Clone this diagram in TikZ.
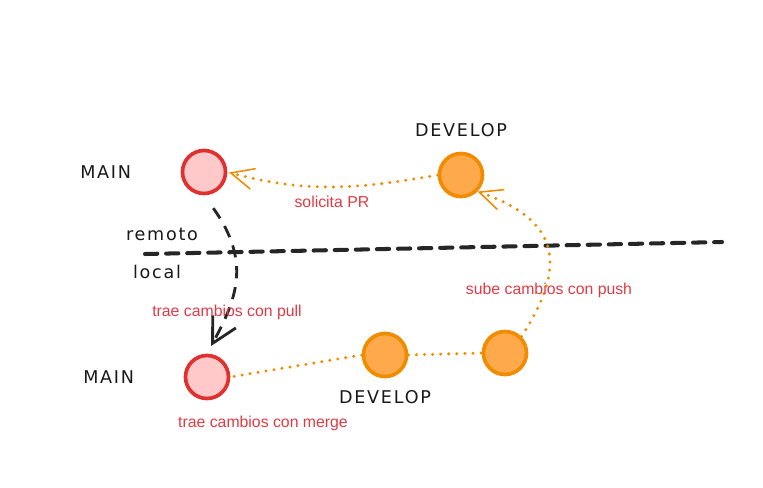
\documentclass[tikz,border=0pt]{standalone}
\usepackage{fontspec}
\setmainfont{Liberation Sans}
\newfontfamily\handfont[LetterSpace=10]{DejaVu Sans}
\usetikzlibrary{arrows.meta,positioning}
\definecolor{mainred}{HTML}{E03131}
\definecolor{mainpink}{HTML}{FFC9C9}
\definecolor{devorange}{HTML}{F08C00}
\definecolor{devfill}{HTML}{FFA94D}
\definecolor{labelred}{HTML}{E03B45}
\tikzset{
  commit/.style   = {circle, minimum size=0.86cm, inner sep=0pt, line width=2.1pt},
  main/.style     = {commit, draw=mainred, fill=mainpink},
  develop/.style  = {commit, draw=devorange, fill=devfill},
  branch/.style   = {font=\handfont\fontsize{10}{12}\selectfont, text=black!90, inner sep=1pt},
  action/.style   = {font=\fontsize{9}{11}\selectfont, text=labelred, inner sep=1pt},
  flow/.style     = {devorange, line width=1.9pt, line cap=round,
                     dash pattern=on 0pt off 4.6pt},
  sync/.style     = {black!85, line width=1.6pt, dash pattern=on 7pt off 5pt}
}

\begin{document}
\begin{tikzpicture}[x=0.02cm, y=-0.02cm,
  >={Straight Barb[length=13pt, width=12pt, line width=0.9pt]}]

\useasboundingbox (0,0) rectangle (763,487);

% remote repository
\node[main]    (mainR) at (204,172) {};
\node[develop] (devR)  at (461,175) {};
\node[branch, left=0.95cm of mainR] (mainRlbl) {MAIN};
\node[branch, above=0.25cm of devR] (devRlbl) {DEVELOP};

% local repository
\node[main]    (mainL) at (207,377) {};
\node[develop] (devL1) at (385,355) {};
\node[develop] (devL2) at (505,353) {};
\node[branch, left=0.95cm of mainL] (mainLlbl) {MAIN};
\node[branch, below=0.2cm of devL1] (devLlbl) {DEVELOP};

% border between remote and local
\coordinate (sepA) at (145,254);
\coordinate (sepB) at (722,242);
\draw[black!85, line width=2.3pt, line cap=round, dash pattern=on 7pt off 5pt] (sepA) -- (sepB);
\node[branch] (remoto) at (162,234) {remoto};
\node[branch] (local) at (157,272) {local};

% connectors
\draw[flow, ->, shorten >=1pt] (devR.west) to[out=190, in=-15]
  node[action, pos=0.5, below=3pt] (prlbl) {solicita PR} (mainR.east);
\draw[sync, ->, >={Straight Barb[length=14pt, width=15pt, line width=1.6pt]},
  shorten <=9pt, shorten >=5pt]
  (mainR.south) .. controls (252,262) and (236,300) .. (mainL.north);
\draw[flow] (devL1.east) -- (devL2.west);
\draw[flow] (devL1.west) -- (mainL.east);
\draw[flow, ->] (devL2.north east) .. controls (568,265) and (560,220) .. (devR.south east);

% labels for the actions
\node[action] (pulllbl)  at (227,312) {trae cambios con pull};
\node[action] (pushlbl)  at (549,290) {sube cambios con push};
\node[action] (mergelbl) at (263,423) {trae cambios con merge};

\end{tikzpicture}
\end{document}
